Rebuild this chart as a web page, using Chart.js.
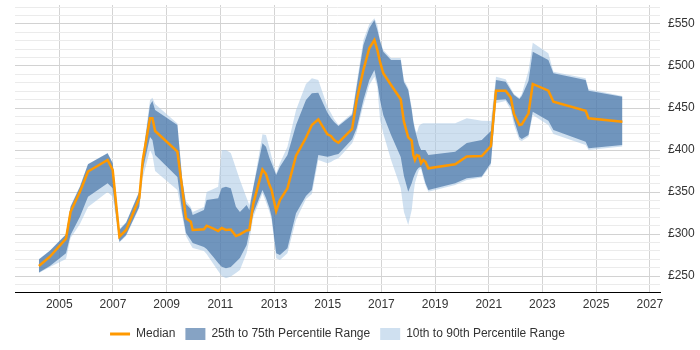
<!DOCTYPE html>
<html><head><meta charset="utf-8">
<script src="https://cdn.jsdelivr.net/npm/chart.js@4/dist/chart.umd.min.js"></script>
<style>html,body{margin:0;padding:0;background:#fff}canvas{display:block}</style>
</head><body>
<canvas id="c" width="700" height="350"></canvas>
<script>
const years = [2004.24, 2004.65, 2005.25, 2005.42, 2005.77, 2006.07, 2006.80, 2006.99, 2007.24, 2007.49, 2007.98, 2008.11, 2008.38, 2008.47, 2008.57, 2009.40, 2009.58, 2009.72, 2009.90, 2009.97, 2010.39, 2010.49, 2010.74, 2010.92, 2011.05, 2011.21, 2011.39, 2011.58, 2011.73, 2011.98, 2012.08, 2012.23, 2012.57, 2012.70, 2012.83, 2012.91, 2013.08, 2013.22, 2013.50, 2013.82, 2014.19, 2014.41, 2014.65, 2014.99, 2015.12, 2015.24, 2015.40, 2015.91, 2016.08, 2016.33, 2016.55, 2016.74, 2016.85, 2016.95, 2017.07, 2017.36, 2017.72, 2017.84, 2018.00, 2018.13, 2018.19, 2018.25, 2018.32, 2018.40, 2018.48, 2018.56, 2018.64, 2018.75, 2019.75, 2020.18, 2020.74, 2021.08, 2021.27, 2021.63, 2021.82, 2021.94, 2022.14, 2022.23, 2022.48, 2022.64, 2023.22, 2023.41, 2024.61, 2024.72, 2025.98];

const median = [261.9, 273.0, 294.6, 326.5, 350.4, 374.4, 388.1, 376.2, 296.8, 304.8, 342.5, 388.1, 437.7, 437.7, 422.6, 398.0, 354.0, 318.7, 314.6, 304.8, 305.6, 309.9, 306.5, 303.6, 307.1, 304.8, 305.4, 297.6, 299.6, 304.2, 304.8, 336.5, 376.8, 371.4, 358.3, 352.4, 327.4, 340.5, 354.4, 393.2, 414.6, 429.8, 436.5, 418.7, 416.7, 411.9, 408.7, 425.0, 459.5, 495.2, 521.1, 531.0, 519.0, 504.8, 491.3, 477.4, 460.4, 433.7, 415.1, 411.3, 394.0, 388.1, 394.0, 392.9, 384.2, 388.1, 386.1, 378.2, 383.0, 392.3, 392.9, 404.8, 470.6, 470.6, 462.5, 442.9, 429.8, 430.6, 443.7, 478.6, 470.6, 457.5, 446.8, 437.7, 433.7];

const p75 = [269.6, 280.1, 299.4, 332.5, 356.3, 383.0, 396.1, 384.2, 304.8, 313.5, 350.4, 392.0, 453.6, 458.3, 447.6, 429.8, 364.3, 335.7, 329.8, 322.6, 328.6, 340.5, 341.7, 342.5, 354.8, 356.3, 354.4, 332.5, 326.2, 334.5, 328.6, 356.0, 408.0, 403.9, 390.5, 384.2, 370.2, 380.1, 394.0, 429.8, 459.5, 467.5, 468.2, 444.4, 438.1, 433.3, 428.6, 441.7, 475.4, 525.0, 545.2, 554.8, 542.9, 529.8, 517.0, 507.1, 507.1, 481.0, 471.4, 447.6, 433.3, 423.8, 415.8, 406.0, 400.0, 400.0, 400.0, 394.0, 398.0, 408.3, 411.9, 422.6, 483.3, 481.3, 471.4, 465.5, 460.7, 464.3, 482.1, 517.0, 507.1, 491.3, 483.3, 470.6, 463.5];

const p25 = [254.2, 261.9, 277.0, 298.8, 320.6, 344.4, 360.4, 354.4, 290.8, 298.8, 332.5, 376.2, 415.5, 411.9, 394.0, 367.9, 326.2, 301.2, 292.9, 289.3, 284.5, 282.1, 272.6, 265.5, 261.1, 259.2, 260.7, 266.7, 271.4, 286.9, 302.4, 325.0, 352.4, 342.9, 331.0, 320.6, 277.0, 275.0, 283.0, 324.6, 345.2, 352.4, 394.0, 392.0, 392.9, 394.0, 395.2, 412.7, 425.8, 459.5, 483.3, 495.2, 479.4, 459.5, 441.7, 417.9, 391.7, 369.0, 350.4, 360.4, 366.7, 371.4, 376.2, 379.2, 379.8, 370.2, 360.7, 352.4, 360.4, 366.3, 368.5, 384.5, 459.5, 460.4, 451.5, 435.7, 415.5, 413.1, 417.9, 445.6, 434.9, 423.8, 409.9, 402.0, 406.0];

const p90 = [270.2, 280.4, 300.0, 333.3, 357.1, 383.3, 396.4, 384.5, 306.0, 314.3, 351.2, 394.0, 459.5, 462.3, 454.8, 431.5, 366.7, 339.3, 332.1, 326.2, 332.1, 350.0, 353.6, 356.3, 400.0, 400.0, 396.4, 378.6, 364.3, 342.9, 334.5, 356.0, 418.7, 417.9, 402.4, 392.0, 372.3, 384.2, 403.9, 447.6, 478.6, 485.4, 483.3, 451.5, 444.0, 436.9, 429.8, 443.7, 479.8, 531.0, 550.0, 556.8, 548.8, 531.0, 519.0, 509.5, 509.5, 483.3, 473.8, 450.0, 435.7, 426.2, 420.2, 428.6, 431.0, 431.8, 431.8, 431.8, 431.8, 437.7, 434.9, 434.5, 487.3, 484.2, 473.5, 466.7, 461.9, 466.7, 494.4, 527.7, 515.1, 493.2, 485.4, 472.3, 464.3];

const p10 = [253.6, 260.7, 270.2, 295.2, 311.9, 332.1, 350.0, 344.4, 289.9, 297.6, 331.0, 366.7, 400.0, 394.0, 375.0, 352.4, 321.4, 297.6, 286.9, 283.3, 279.8, 276.2, 264.3, 256.0, 250.0, 247.3, 249.4, 253.6, 257.1, 277.4, 292.9, 320.2, 348.5, 338.1, 326.2, 316.7, 271.1, 269.0, 277.0, 316.7, 341.7, 347.6, 388.1, 384.2, 385.7, 388.1, 390.1, 408.0, 421.4, 453.6, 477.4, 487.3, 475.4, 435.7, 419.9, 388.1, 354.8, 326.2, 310.7, 328.6, 346.4, 360.7, 368.2, 376.2, 377.4, 366.7, 358.3, 350.4, 358.3, 364.3, 367.3, 382.1, 455.6, 458.3, 447.6, 429.8, 411.9, 410.7, 415.8, 441.7, 429.8, 419.0, 406.0, 400.0, 404.2];

const xTickYears = [2005, 2007, 2009, 2011, 2013, 2015, 2017, 2019, 2021, 2023, 2025, 2027];
const yLabelValues = [250, 300, 350, 400, 450, 500, 550];
const yGridValues = [240, 250, 260, 270, 280, 290, 300, 310, 320, 330, 340, 350, 360, 370, 380, 390, 400, 410, 420, 430, 440, 450, 460, 470, 480, 490, 500, 510, 520, 530, 540, 550, 560, 570];

const seriesNames = ['Median', '25th to 75th Percentile Range', '10th to 90th Percentile Range'];

const ORANGE = '#ff9900';
const DARK = 'rgba(35,88,148,0.55)';
const LIGHT = 'rgba(168,198,227,0.55)';

const pts = arr => arr.map((v, i) => ({x: years[i], y: v}));
const band = (data, fill, color, order) => ({
  data: pts(data), fill: fill, backgroundColor: color, borderColor: 'rgba(0,0,0,0)',
  borderWidth: 0, pointRadius: 0, pointHoverRadius: 0, tension: 0, order: order
});

Chart.defaults.font.family = '"Liberation Sans", Arial, sans-serif';
Chart.defaults.font.size = 12;

new Chart(document.getElementById('c'), {
  type: 'line',
  data: {
    datasets: [
      {label: seriesNames[0], data: pts(median), borderColor: ORANGE, backgroundColor: ORANGE,
       borderWidth: 2.5, pointRadius: 0, pointHoverRadius: 0, tension: 0, fill: false, order: 0},
      Object.assign(band(p75, '+1', DARK, 1), {label: seriesNames[1]}),
      band(p25, false, DARK, 1),
      Object.assign(band(p90, '+1', LIGHT, 2), {label: seriesNames[2]}),
      band(p10, false, LIGHT, 2)
    ]
  },
  options: {
    responsive: false,
    devicePixelRatio: 1,
    animation: false,
    layout: {padding: {left: 15, top: 5, right: 0, bottom: 0}},
    scales: {
      x: {
        type: 'linear', min: 2003.35, max: 2027.38,
        afterBuildTicks: s => { s.ticks = xTickYears.map(v => ({value: v})); },
        afterFit: s => { s.height = 26; s.paddingLeft = 0; s.paddingRight = 0; },
        ticks: {autoSkip: false, maxRotation: 0, padding: 5, color: '#333', callback: v => String(v)},
        grid: {color: '#d4d4d4', drawTicks: false},
        border: {display: true, color: '#000', width: 1}
      },
      y: {
        type: 'linear', position: 'right', min: 231, max: 572.6,
        afterBuildTicks: s => { s.ticks = yGridValues.map(v => ({value: v})); },
        afterFit: s => { s.width = 40; s.paddingTop = 0; s.paddingBottom = 0; },
        ticks: {autoSkip: false, padding: 8, color: '#333',
                callback: v => yLabelValues.includes(v) ? '£' + v : ''},
        grid: {drawTicks: false,
               color: c => (c.tick && yLabelValues.includes(c.tick.value)) ? '#d2d2d2' : '#ebebeb'},
        border: {display: false}
      }
    },
    plugins: {
      tooltip: {enabled: false},
      legend: {
        position: 'bottom', fullSize: false,
        labels: {
          usePointStyle: true, pointStyleWidth: 20, boxHeight: 12, padding: 10, color: '#333',
          generateLabels: () => [
            {text: seriesNames[0], pointStyle: 'line', strokeStyle: ORANGE, fillStyle: ORANGE, lineWidth: 3, fontColor: '#333', datasetIndex: 0, hidden: false},
            {text: seriesNames[1], pointStyle: 'rect', strokeStyle: DARK, fillStyle: DARK, lineWidth: 0, fontColor: '#333', datasetIndex: 1, hidden: false},
            {text: seriesNames[2], pointStyle: 'rect', strokeStyle: LIGHT, fillStyle: LIGHT, lineWidth: 0, fontColor: '#333', datasetIndex: 3, hidden: false}
          ]
        }
      }
    }
  }
});
</script>
</body></html>
